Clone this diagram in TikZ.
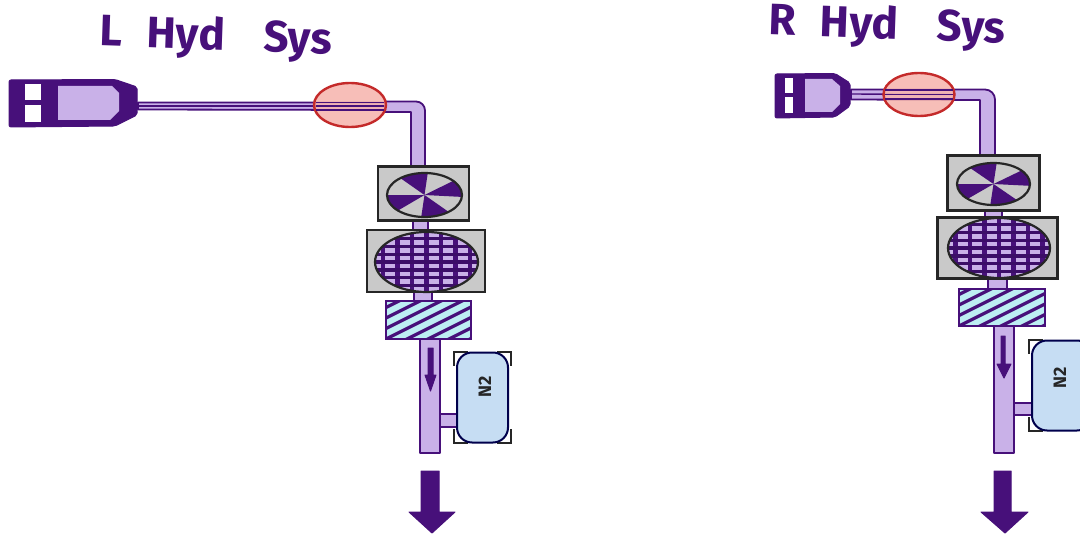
\documentclass[tikz,border=0pt]{standalone}
\usepackage{fontspec}
\usetikzlibrary{shapes.geometric}
\setmainfont{Fira Sans}
\definecolor{dkp}{HTML}{47107A}
\definecolor{lip}{HTML}{C9B1E8}
\definecolor{redb}{HTML}{C42A2A}
\definecolor{redf}{HTML}{F6B3AC}
\definecolor{gryf}{HTML}{C9C9C9}
\definecolor{cyf}{HTML}{BDEEF3}
\definecolor{blf}{HTML}{C6DDF3}
\tikzset{
 pipe/.style={draw=dkp,fill=lip,line width=2.6pt,line join=round},
 thinpipe/.style={draw=dkp,fill=lip,line width=1.8pt,line join=round},
 res/.style={fill=dkp,draw=dkp,line width=1pt,line join=round,rounded corners=2pt},
 win/.style={fill=white,draw=none},
 valve/.style={ellipse,draw=redb,fill=redf,fill opacity=.85,line width=2.4pt,inner sep=0pt},
 graybox/.style={draw=black!85,fill=gryf,line width=2.4pt},
 bigarrow/.style={fill=dkp,draw=dkp,line width=1pt,line join=round},
 title/.style={text=dkp,font=\bfseries\fontsize{44}{46}\selectfont},
 gas/.style={text=black!85,rotate=90,font=\bfseries\fontsize{18}{19}\selectfont},
}
\newcommand{\fan}[4]{%
 \begin{scope}
 \clip (#1,#2) ellipse [x radius=#3,y radius=#4];
 \fill[gryf] (#1,#2) ellipse [x radius=#3,y radius=#4];
 \foreach \a in {85,355,180,265}{
  \fill[dkp] (#1,#2) -- ({#1+2*#3*cos(\a)},{#2-2*#4*sin(\a)}) -- ({#1+2*#3*cos(\a+45)},{#2-2*#4*sin(\a+45)}) -- cycle;}
 \end{scope}
 \draw[black!85,line width=2.2pt] (#1,#2) ellipse [x radius=#3,y radius=#4];}
\newcommand{\gridball}[4]{%
 \begin{scope}
 \clip (#1,#2) ellipse [x radius=#3,y radius=#4];
 \fill[lip] (#1,#2) ellipse [x radius=#3,y radius=#4];
 \foreach \i in {-4,...,4}{\draw[dkp,line width=4.2pt] ({#1+\i*14.5},{#2-#4}) -- ++(0,{2*#4});}
 \foreach \i in {-4,...,4}{\draw[dkp!85!black,line width=3.4pt] ({#1-#3},{#2+\i*7.8}) -- ++({2*#3},0);}
 \end{scope}
 \draw[black!85,line width=2.2pt] (#1,#2) ellipse [x radius=#3,y radius=#4];}
\newcommand{\hatchbox}[4]{%
 \begin{scope}
 \clip (#1,#2) rectangle (#3,#4);
 \fill[cyf] (#1,#2) rectangle (#3,#4);
 \foreach \i in {-4,...,5}{\draw[dkp,line width=3.2pt] ({#1-10+\i*21},{#4+5}) -- ++(90,-45);}
 \end{scope}
 \draw[dkp,line width=2.6pt] (#1,#2) rectangle (#3,#4);}
\newcommand{\accum}[4]{%
 \foreach \x/\y/\sx/\sy in {#1/#2/1/1,#3/#2/-1/1,#1/#4/1/-1,#3/#4/-1/-1}{
  \fill[white] (\x,\y) rectangle ++({\sx*14},{\sy*14});
  \draw[black!85,line width=2pt] ({\x+\sx*14},\y) -- (\x,\y) -- (\x,{\y+\sy*14});}
 \draw[draw=black!70!blue,fill=blf,line width=2pt,rounded corners=15pt] ({#1+3},{#2+0.5}) rectangle ({#3-3},{#4-0.5});}
\begin{document}
\begin{tikzpicture}[x=1pt,y=-1pt]
\useasboundingbox (0,0) rectangle (1080,535);
%% left
\node[title,rotate=-2] (ltitle) at (216,38) {L\hspace{14pt} Hyd\hspace{28pt} Sys};
\coordinate (lA) at (138,106);
\draw[thinpipe] (138,102.5) -- (385,102.5) -- (385,101.5) -- (416,101.5) arc (-90:0:9) -- (425,170) -- (411,170) -- (411,112) -- (385,112) -- (385,110) -- (138,109.5) -- cycle;
\draw[pipe] (425,110) -- (425,170) (411,112) -- (411,170);
\draw[dkp,line width=1.4pt] (lA) -- (385,106);
\draw[pipe] (413,215) rectangle (428,235);
\draw[pipe] (414,290) rectangle (432,305);
\draw[pipe] (420,335) rectangle (440,453);
\draw[pipe] (440,414) rectangle (460,427);
\draw[res] (9,80) -- (115,79.5) -- (137,87) -- (137,115) -- (115,126) -- (9,127) -- cycle;
\fill[lip] (58,86) -- (112,86) -- (119,93) -- (119,111) -- (110,120) -- (58,120) -- cycle;
\fill[win] (25,84) rectangle (41,100);
\fill[win] (25,105) rectangle (41,122);
\node[valve,minimum width=72pt,minimum height=44pt] (lvalve) at (350,105) {};
\draw[dkp,line width=1.2pt] (316,102.5) -- (384,102.5) (316,110) -- (384,110) (316,106) -- (384,106);
\node[graybox,minimum width=91pt,minimum height=54pt,inner sep=0pt] (lfan) at (423.5,193.5) {};
\fan{424.5}{195}{37.5}{22}
\node[graybox,minimum width=118pt,minimum height=62pt,inner sep=0pt] (lfilt) at (426,261) {};
\gridball{426.5}{262}{51.5}{30}
\hatchbox{386}{301}{471}{339}
\accum{454}{352}{511}{443}
\node[gas] (lgas) at (485,387) {N2};
\draw[bigarrow] (428,348) -- (433,348) -- (433,375) -- (436,375) -- (430.5,391) -- (425,375) -- (428,375) -- cycle;
\draw[bigarrow] (421,471) -- (439,471) -- (439,512) -- (455,512) -- (432,533) -- (409,512) -- (421,512) -- cycle;
%% right
\node[title,rotate=-2] (rtitle) at (887,27) {R\hspace{14pt} Hyd\hspace{28pt} Sys};
\coordinate (rA) at (851,94);
\draw[thinpipe] (851,89.5) -- (985,89.5) arc (-90:0:10) -- (995,160) -- (980,160) -- (980,100) -- (851,99.5) -- cycle;
\draw[pipe] (995,100) -- (995,160) (980,100) -- (980,160);
\draw[dkp,line width=1.4pt] (rA) -- (955,94.5);
\draw[pipe] (985,205) rectangle (1002,225);
\draw[pipe] (988,275) rectangle (1007,292);
\draw[pipe] (994,322) rectangle (1014,453);
\draw[pipe] (1014,403) rectangle (1034,415);
\draw[res] (775,74) -- (835,73.5) -- (850,83) -- (850,106) -- (835,117) -- (775,118) -- cycle;
\fill[lip] (805,79) -- (832,79) -- (840,86) -- (840,104) -- (832,112) -- (805,112) -- cycle;
\fill[win] (785,78) rectangle (793,93);
\fill[win] (785,97) rectangle (793,113);
\node[valve,minimum width=71pt,minimum height=43pt] (rvalve) at (919,94.5) {};
\draw[dkp,line width=1.2pt] (885,90) -- (953,90) (885,99) -- (953,99) (885,94.5) -- (953,94.5);
\node[graybox,minimum width=92pt,minimum height=55pt,inner sep=0pt] (rfan) at (993.5,183) {};
\fan{993.5}{184}{36.5}{21}
\node[graybox,minimum width=120pt,minimum height=61pt,inner sep=0pt] (rfilt) at (997.5,248) {};
\gridball{999}{248}{51}{30}
\hatchbox{959}{289}{1045}{326}
\accum{1029}{340}{1095}{431}
\node[gas] (rgas) at (1060,378) {N2};
\draw[bigarrow] (1001,336) -- (1005,336) -- (1005,364) -- (1011,364) -- (1004,378) -- (997,364) -- (1001,364) -- cycle;
\draw[bigarrow] (994,471) -- (1011,471) -- (1011,512) -- (1028,512) -- (1005,533) -- (981,512) -- (994,512) -- cycle;
\end{tikzpicture}
\end{document}
